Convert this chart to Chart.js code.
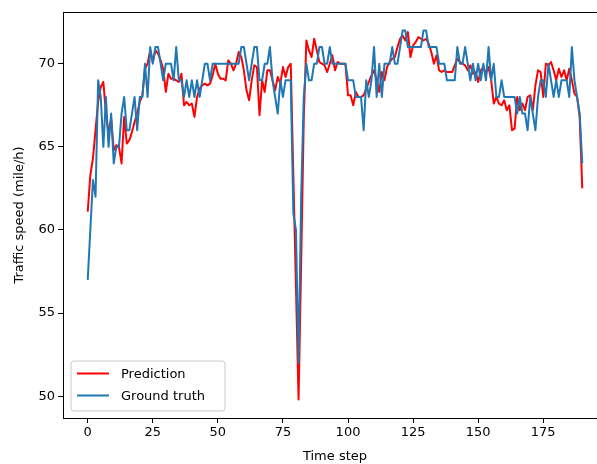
<!DOCTYPE html>
<html>
<head>
<meta charset="utf-8">
<script src="https://cdn.jsdelivr.net/npm/chart.js@4/dist/chart.umd.min.js"></script>
<style>
  html, body { margin: 0; padding: 0; background: #fff; overflow: hidden; }
  #wrap { width: 597px; height: 464px; overflow: hidden; }
  canvas { display: block; }
</style>
</head>
<body>
<div id="wrap"><canvas id="c" width="610" height="464"></canvas></div>
<script>
const seriesNames = ["Prediction", "Ground truth"];
const xTickValues = [0, 25, 50, 75, 100, 125, 150, 175];
const yTickValues = [50, 55, 60, 65, 70];

const prediction = [
  61.1, 63.3, 64.3, 66, 67.7, 68.6, 68.9, 67, 65.8, 66.7,
  64.8, 65.1, 65, 64, 66.8, 65.2, 65.4, 65.9, 66.5, 67,
  67.7, 68.1, 69.7, 70, 70.8, 70.1, 70.8, 70.6, 70.2, 69.7,
  68.3, 69.4, 69.1, 69.1, 69, 68.9, 69.4, 67.5, 67.7, 67.5,
  67.6, 66.8, 68, 68.5, 68.7, 68.8, 68.7, 68.8, 69.3, 70,
  69.4, 69.1, 69.1, 69, 70.2, 70, 69.6, 70, 70.7, 70.4,
  69.6, 68.4, 67.8, 69, 69.9, 69.8, 66.9, 69, 68.3, 69.6,
  69.6, 69, 68.4, 69.2, 68.8, 69.8, 69.2, 69.8, 70, 63.3,
  56.6, 49.8, 58, 66.7, 71.4, 70.8, 70.4, 71.5, 70.8, 70.1,
  70, 69.9, 69.5, 70, 70.5, 69.6, 70.1, 70, 70, 70,
  68.1, 68.1, 67.5, 68.3, 68, 68, 68.1, 68.5, 68.9, 69.3,
  69.6, 69, 68.3, 69.5, 69, 69.8, 70.1, 70.3, 70.4, 71,
  71.5, 71.7, 71.4, 71.9, 70.4, 71.1, 71.3, 71.6, 71.5, 71.4,
  71.5, 71.2, 70.7, 70, 70.5, 69.6, 69.5, 69.6, 69.5, 69.5,
  69.5, 69.9, 70.3, 70.1, 70, 69.9, 69.6, 69.9, 69.4, 69.5,
  68.9, 69.6, 69.8, 69.4, 69.8, 69, 67.6, 68, 67.6, 67.5,
  67.8, 67.2, 67.5, 66, 66.1, 68, 67.2, 67.6, 67.2, 68,
  68.1, 67.2, 68.7, 69.6, 69.5, 68, 70, 69.9, 70.1, 69.6,
  69, 69.7, 69.2, 69.6, 69, 69.7, 69, 68.2, 68, 66.8,
  62.5
];

const groundTruth = [
  57, 60, 63, 62, 69, 68, 65, 68, 65, 67,
  64, 65, 65, 67, 68, 66, 66, 67, 68, 66,
  68, 68, 70, 68, 71, 70, 71, 71, 70, 69,
  70, 70, 70, 69, 71, 69, 69, 68, 69, 68,
  69, 68, 69, 68, 69, 70, 70, 69, 70, 70,
  70, 70, 70, 70, 70, 70, 70, 70, 70, 71,
  71, 70, 69, 70, 71, 71, 69, 69, 70, 70,
  71, 69, 68, 67, 69, 68, 69, 69, 69, 61,
  60, 52, 62, 68, 70, 69, 69, 70, 70, 71,
  71, 70, 70, 71, 70, 70, 70, 70, 70, 70,
  69, 69, 69, 68, 68, 68, 66, 69, 68, 69,
  71, 68, 70, 68, 70, 70, 70, 71, 70, 70,
  71, 72, 72, 71, 71, 71, 71, 71, 71, 72,
  72, 71, 71, 71, 71, 70, 70, 70, 69, 69,
  69, 69, 71, 70, 70, 71, 70, 69, 70, 69,
  70, 69, 70, 69, 71, 69, 70, 68, 68, 69,
  68, 68, 68, 68, 68, 67, 68, 67, 67, 66,
  68, 67, 66, 68, 69, 69, 68, 70, 69, 68,
  69, 68, 69, 69, 69, 68, 71, 69, 68, 67,
  64
];

const toPoints = arr => arr.map((v, i) => ({ x: i, y: v }));

const FONT = "'DejaVu Sans', sans-serif";
Chart.defaults.color = '#000';
Chart.defaults.font.family = FONT;
Chart.defaults.font.size = 13;

const framePlugin = {
  id: 'frame',
  afterDatasetsDraw(chart) {
    const { ctx, chartArea: a } = chart;
    ctx.save();
    ctx.strokeStyle = '#000';
    ctx.lineWidth = 1;
    ctx.strokeRect(Math.round(a.left) + 0.5, Math.round(a.top) + 0.5,
                   Math.round(a.right - a.left), Math.round(a.bottom - a.top));
    ctx.restore();
  },
  afterDraw(chart) {
    const { ctx, chartArea: a } = chart;
    const ds = chart.data.datasets;
    const bx = a.left + 8, by = a.bottom - 57, bw = 154, bh = 50, r = 3;
    ctx.save();
    ctx.fillStyle = 'rgba(255,255,255,0.8)';
    ctx.strokeStyle = '#cccccc';
    ctx.lineWidth = 1;
    ctx.beginPath();
    ctx.moveTo(bx + r, by);
    ctx.lineTo(bx + bw - r, by);
    ctx.arcTo(bx + bw, by, bx + bw, by + r, r);
    ctx.lineTo(bx + bw, by + bh - r);
    ctx.arcTo(bx + bw, by + bh, bx + bw - r, by + bh, r);
    ctx.lineTo(bx + r, by + bh);
    ctx.arcTo(bx, by + bh, bx, by + bh - r, r);
    ctx.lineTo(bx, by + r);
    ctx.arcTo(bx, by, bx + r, by, r);
    ctx.closePath();
    ctx.fill();
    ctx.stroke();
    ctx.font = '13px ' + FONT;
    ctx.textBaseline = 'middle';
    ctx.fillStyle = '#000';
    const rows = [ds[1], ds[0]];
    rows.forEach((d, i) => {
      const y = by + 12.5 + i * 22;
      ctx.strokeStyle = d.borderColor;
      ctx.lineWidth = 2;
      ctx.beginPath();
      ctx.moveTo(bx + 6, y);
      ctx.lineTo(bx + 38, y);
      ctx.stroke();
      ctx.fillText(d.label, bx + 50, y + 1);
    });
    ctx.restore();
  }
};

new Chart(document.getElementById('c'), {
  type: 'line',
  data: {
    datasets: [
      {
        label: seriesNames[1],
        data: toPoints(groundTruth),
        borderColor: '#1f77b4',
        borderWidth: 2,
        pointRadius: 0,
        tension: 0,
        borderJoinStyle: 'round',
        order: 0
      },
      {
        label: seriesNames[0],
        data: toPoints(prediction),
        borderColor: '#ff0000',
        borderWidth: 2,
        pointRadius: 0,
        tension: 0,
        borderJoinStyle: 'round',
        order: 1
      }
    ]
  },
  options: {
    responsive: false,
    animation: false,
    devicePixelRatio: 1,
    layout: { padding: { top: 12, right: 3, left: 0, bottom: 0 } },
    plugins: { legend: { display: false }, tooltip: { enabled: false } },
    scales: {
      x: {
        type: 'linear',
        min: -9.5,
        max: 199.5,
        afterBuildTicks: s => { s.ticks = xTickValues.map(v => ({ value: v })); },
        afterFit: s => { s.height = 46; },
        ticks: { padding: 2, maxRotation: 0, autoSkip: false, color: '#000', font: { size: 13 } },
        grid: { drawOnChartArea: false, drawTicks: true, tickLength: 5, color: '#000', tickWidth: 1 },
        border: { display: true, color: '#000', width: 1 },
        title: { display: true, text: 'Time step', color: '#000', font: { size: 13 }, padding: { top: 0, bottom: 0 } }
      },
      y: {
        type: 'linear',
        min: 48.69,
        max: 73.11,
        afterBuildTicks: s => { s.ticks = yTickValues.map(v => ({ value: v })); },
        afterFit: s => { s.width = 63; },
        ticks: { padding: 3, color: '#000', font: { size: 13 } },
        grid: { drawOnChartArea: false, drawTicks: true, tickLength: 5, color: '#000', tickWidth: 1 },
        border: { display: true, color: '#000', width: 1 },
        title: { display: true, text: 'Traffic speed (mile/h)', color: '#000', font: { size: 13 }, padding: { top: 12, bottom: 0 } }
      }
    }
  },
  plugins: [framePlugin]
});
</script>
</body>
</html>
